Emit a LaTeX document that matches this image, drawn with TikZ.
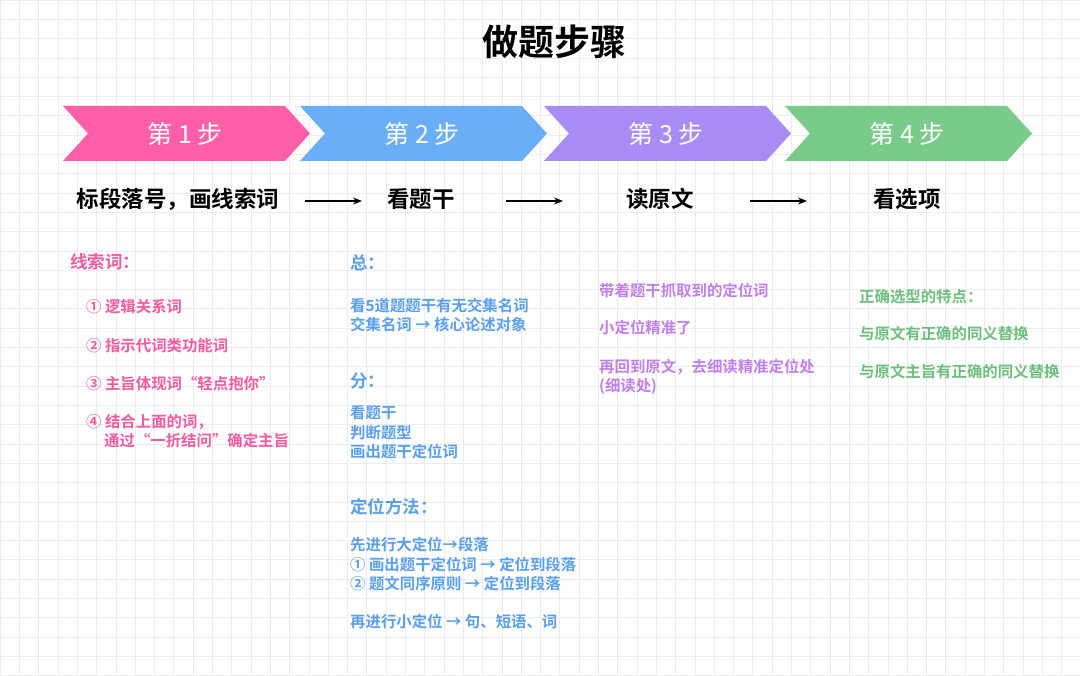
\documentclass[tikz,border=0pt]{standalone}
\usepackage{fontspec}
\setmainfont{Noto Sans CJK SC}
\newfontfamily\cjkb{Noto Sans CJK SC Bold}
\usetikzlibrary{arrows.meta}
\definecolor{cpink}{HTML}{FF5FA8}
\definecolor{cblue}{HTML}{6AAEF8}
\definecolor{cpurple}{HTML}{A98BF5}
\definecolor{cgreen}{HTML}{7ACB8A}
\definecolor{tblue}{HTML}{5A9FEF}
\definecolor{tpurple}{HTML}{C07FEA}
\definecolor{tgreen}{HTML}{6CC07C}
\definecolor{tpink}{HTML}{F25AA0}
\begin{document}
\begin{tikzpicture}[x=1pt,y=-1pt,
  txt/.style={anchor=west,inner sep=0pt,font=\cjkb\fontsize{15.4}{18}\selectfont},
  head/.style={txt,font=\cjkb\fontsize{17.5}{20}\selectfont},
  lbl/.style={inner sep=0pt,font=\cjkb\fontsize{22.5}{26}\selectfont},
  steplbl/.style={text=white,font=\fontsize{25}{30}\selectfont},
  flow/.style={-{Stealth[length=9pt,width=7pt]},line width=1.1pt}]
\useasboundingbox (0,0) rectangle (1080,676);
\fill[white] (0,0) rectangle (1080,676);
\foreach \i in {0,19.3,...,1080} \draw[gray!15,line width=0.6pt] (\i,0) -- (\i,676);
\foreach \i in {0,19.3,...,676} \draw[gray!15,line width=0.6pt] (0,\i) -- (1080,\i);
\node[inner sep=0pt,font=\cjkb\fontsize{36}{40}\selectfont] (title) at (554,42) {做题步骤};
\foreach \c/\x/\k in {cpink/63/1,cblue/300/2,cpurple/544/3,cgreen/785/4}{
  \fill[\c] (\x,106) -- (\x+222,106) -- (\x+247,133.5) -- (\x+222,161) -- (\x,161) -- (\x+25,133.5) -- cycle;
  \node[steplbl] (s\k) at (\x+122,134) {第 \k{} 步};
}
\node[lbl] (l1) at (178,199) {标段落号，画线索词};
\node[lbl] (l2) at (421,199) {看题干};
\node[lbl] (l3) at (660,199) {读原文};
\node[lbl] (l4) at (907,199) {看选项};
\coordinate (a1) at (305,201); \coordinate (b1) at (362,201);
\coordinate (a2) at (506,201); \coordinate (b2) at (563,201);
\coordinate (a3) at (750,201); \coordinate (b3) at (807,201);
\draw[flow] (a1) -- (b1); \draw[flow] (a2) -- (b2); \draw[flow] (a3) -- (b3);
\begin{scope}[every node/.append style={text=tpink}]
\node[head] (p0) at (70,262) {线索词：};
\node[txt] (p1) at (86,307) {① 逻辑关系词};
\node[txt] (p2) at (86,346) {② 指示代词类功能词};
\node[txt] (p3) at (86,384) {③ 主旨体现词“轻点抱你”};
\node[txt] (p4) at (86,422) {④ 结合上面的词，};
\node[txt] (p5) at (104,441) {通过“一折结问”确定主旨};
\end{scope}
\begin{scope}[every node/.append style={text=tblue}]
\node[head] (q0) at (350,263) {总：};
\node[txt] (q1) at (350,306) {看5道题题干有无交集名词};
\node[txt] (q2) at (350,325) {交集名词 → 核心论述对象};
\node[head] (q3) at (350,381) {分：};
\node[txt] (q4) at (350,413) {看题干};
\node[txt] (q5) at (350,433) {判断题型};
\node[txt] (q6) at (350,452) {画出题干定位词};
\node[head] (q7) at (350,507) {定位方法：};
\node[txt] (q8) at (350,545) {先进行大定位→段落};
\node[txt] (q9) at (350,565) {① 画出题干定位词 → 定位到段落};
\node[txt] (q10) at (350,584) {② 题文同序原则 → 定位到段落};
\node[txt] (q11) at (350,622) {再进行小定位 → 句、短语、词};
\end{scope}
\begin{scope}[every node/.append style={text=tpurple}]
\node[txt] (r1) at (599,291) {带着题干抓取到的定位词};
\node[txt] (r2) at (599,328) {小定位精准了};
\node[txt] (r3) at (599,367) {再回到原文，去细读精准定位处};
\node[txt] (r4) at (599,386) {(细读处)};
\end{scope}
\begin{scope}[every node/.append style={text=tgreen}]
\node[txt] (g1) at (859,297) {正确选型的特点：};
\node[txt] (g2) at (859,334) {与原文有正确的同义替换};
\node[txt] (g3) at (859,372) {与原文主旨有正确的同义替换};
\end{scope}
\end{tikzpicture}
\end{document}
